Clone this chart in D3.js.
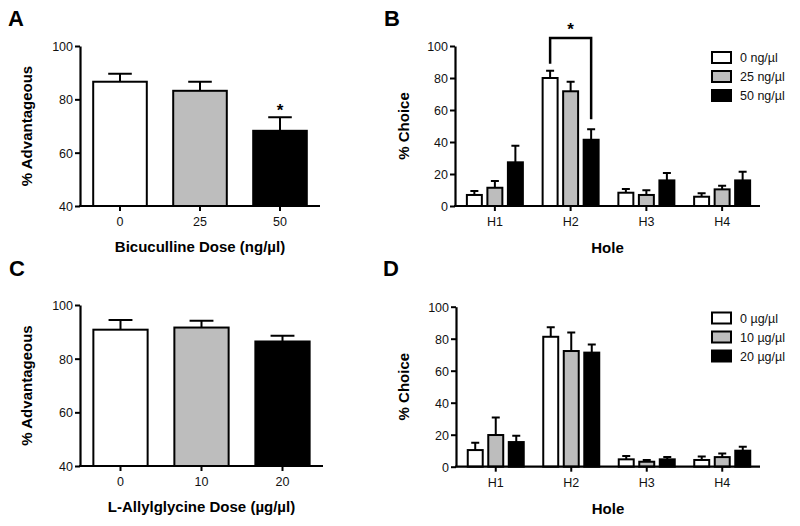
<!DOCTYPE html>
<html><head><meta charset="utf-8">
<script src="https://cdn.jsdelivr.net/npm/d3@7"></script>
<style>body{margin:0;background:#fff}svg{display:block}text{font-family:"Liberation Sans",Arial,Helvetica,sans-serif}</style>
</head><body><svg id="c" width="800" height="526"></svg>
<script>
// ---- data ----
const dosesA = ["0", "25", "50"];
const meanA = [86.6, 83.2, 68.2];
const semA = [3.0, 3.4, 5.1];

const dosesC = ["0", "10", "20"];
const meanC = [90.8, 91.6, 86.4];
const semC = [3.6, 2.5, 2.1];

const holes = ["H1", "H2", "H3", "H4"];
const seriesB = ["0 ng/µl", "25 ng/µl", "50 ng/µl"];
const meanB0 = [6.9, 80.0, 8.3, 5.8];
const semB0 = [2.5, 4.6, 2.3, 2.1];
const meanB25 = [11.4, 71.7, 6.9, 10.4];
const semB25 = [4.2, 6.0, 2.9, 2.3];
const meanB50 = [27.3, 41.4, 16.0, 16.0];
const semB50 = [10.4, 6.5, 4.6, 5.4];

const seriesD = ["0 µg/µl", "10 µg/µl", "20 µg/µl"];
const meanD0 = [10.4, 81.2, 4.6, 4.2];
const semD0 = [4.6, 5.9, 2.1, 2.1];
const meanD10 = [19.8, 72.3, 3.1, 6.0];
const semD10 = [11.0, 11.5, 1.1, 2.3];
const meanD20 = [15.4, 71.3, 4.6, 10.0];
const semD20 = [4.0, 5.0, 1.4, 2.5];

const ticksAdv = [40, 60, 80, 100];
const ticksChoice = [0, 20, 40, 60, 80, 100];
const fills = ["#ffffff", "#bdbdbd", "#000000"];

const svg = d3.select("#c");
const FONT = 12.5;
const TFONT = 15;

function styleAxis(g) {
  g.select(".domain").attr("stroke", "#000").attr("stroke-width", 2.2);
  g.selectAll(".tick line").attr("stroke", "#000").attr("stroke-width", 2);
  g.selectAll(".tick text").attr("font-size", FONT).attr("fill", "#111");
}

function panelLabel(t, x, y) {
  svg.append("text").attr("x", x).attr("y", y).attr("font-size", 22)
    .attr("font-weight", "bold").text(t);
}

function drawYAxis(y, x0, ticks, title, titleX) {
  const g = svg.append("g").attr("transform", `translate(${x0},0)`)
    .call(d3.axisLeft(y).tickValues(ticks).tickSize(5).tickPadding(2).tickSizeOuter(0));
  styleAxis(g);
  g.selectAll(".tick text").attr("dy", "0.36em");
  const ym = (y.range()[0] + y.range()[1]) / 2;
  svg.append("text").attr("transform", `translate(${titleX},${ym}) rotate(-90)`)
    .attr("text-anchor", "middle").attr("font-size", TFONT).attr("font-weight", "bold").text(title);
}

function drawXAxis(x, y0, xEnd, x0, title, titleY) {
  const g = svg.append("g").attr("transform", `translate(0,${y0})`)
    .call(d3.axisBottom(x).tickSize(5).tickSizeOuter(0));
  g.select(".domain").remove();
  styleAxis(g);
  g.selectAll(".tick text").attr("y", 20).attr("dy", 0);
  svg.append("line").attr("x1", x0 - 1).attr("x2", xEnd).attr("y1", y0).attr("y2", y0)
    .attr("stroke", "#000").attr("stroke-width", 2.2);
  svg.append("text").attr("x", (x0 + xEnd) / 2).attr("y", titleY)
    .attr("text-anchor", "middle").attr("font-size", TFONT).attr("font-weight", "bold").text(title);
}

function simplePanel(cats, means, sems, xr, yr, dom, xTitle, xTitleY) {
  const x = d3.scaleBand().domain(cats).range(xr).paddingInner(0.33).paddingOuter(0.165);
  const y = d3.scaleLinear().domain(dom).range(yr);
  const data = cats.map((c, i) => ({c, m: means[i], s: sems[i], f: fills[i]}));
  const g = svg.append("g");
  g.selectAll(".eb").data(data).join("path")
    .attr("d", d => {
      const cx = x(d.c) + x.bandwidth() / 2, hw = x.bandwidth() * 0.22;
      return `M${cx},${y(d.m)}V${y(d.m + d.s)}M${cx - hw},${y(d.m + d.s)}H${cx + hw}`;
    }).attr("stroke", "#000").attr("stroke-width", 2).attr("fill", "none");
  g.selectAll("rect").data(data).join("rect")
    .attr("x", d => x(d.c)).attr("width", x.bandwidth())
    .attr("y", d => y(d.m)).attr("height", d => y(dom[0]) - y(d.m))
    .attr("fill", d => d.f).attr("stroke", "#000").attr("stroke-width", 2);
  drawYAxis(y, xr[0], ticksAdv, "% Advantageous", 32);
  drawXAxis(x, yr[0], xr[1], xr[0], xTitle, xTitleY);
  return {x, y};
}

function groupedPanel(series, means, sems, xr, yr, legY) {
  const x = d3.scaleBand().domain(holes).range(xr).padding(0);
  const inner = d3.scaleBand().domain(series).range([-28, 28]).paddingInner(0.27).paddingOuter(0);
  const y = d3.scaleLinear().domain([0, 100]).range(yr);
  const data = [];
  series.forEach((s, si) => holes.forEach((h, hi) => {
    data.push({h, s, m: means[si][hi], e: sems[si][hi], f: fills[si]});
  }));
  const bx = d => x(d.h) + x.bandwidth() / 2 + inner(d.s);
  const g = svg.append("g");
  g.selectAll(".eb").data(data).join("path")
    .attr("d", d => {
      const cx = bx(d) + inner.bandwidth() / 2, hw = 4;
      return `M${cx},${y(d.m)}V${y(d.m + d.e)}M${cx - hw},${y(d.m + d.e)}H${cx + hw}`;
    }).attr("stroke", "#000").attr("stroke-width", 2).attr("fill", "none");
  g.selectAll("rect").data(data).join("rect")
    .attr("x", bx).attr("width", inner.bandwidth())
    .attr("y", d => y(d.m)).attr("height", d => y(0) - y(d.m))
    .attr("fill", d => d.f).attr("stroke", "#000").attr("stroke-width", 2);
  drawYAxis(y, xr[0] - 2, ticksChoice, "% Choice", 409);
  drawXAxis(x, yr[0], xr[1], xr[0] - 2, "Hole", yr[0] + 47);
  const lg = svg.append("g");
  series.forEach((s, i) => {
    lg.append("rect").attr("x", 712).attr("y", legY + i * 19).attr("width", 19).attr("height", 11)
      .attr("fill", fills[i]).attr("stroke", "#000").attr("stroke-width", 2);
    lg.append("text").attr("x", 740).attr("y", legY + i * 19 + 10).attr("font-size", FONT)
      .attr("fill", "#111").text(s);
  });
  return {x, y, inner, bx};
}

// Panel A
panelLabel("A", 8, 26);
const pA = simplePanel(dosesA, meanA, semA, [80, 320], [206, 46], [40, 100],
  "Bicuculline Dose (ng/µl)", 252);
svg.append("text").attr("x", pA.x("50") + pA.x.bandwidth() / 2)
  .attr("y", pA.y(meanA[2] + semA[2]) - 1).attr("text-anchor", "middle")
  .attr("font-size", 17).attr("font-weight", "bold").text("*");

// Panel B
panelLabel("B", 384, 26);
const pB = groupedPanel(seriesB, [meanB0, meanB25, meanB50], [semB0, semB25, semB50],
  [457, 760], [206, 46], 52);
{
  const xL = pB.bx({h: "H2", s: seriesB[0]}) + pB.inner.bandwidth() / 2;
  const xR = pB.bx({h: "H2", s: seriesB[2]}) + pB.inner.bandwidth() / 2;
  const top = pB.y(105);
  svg.append("path")
    .attr("d", `M${xL},${pB.y(meanB0[1] + semB0[1]) - 7}V${top}H${xR}V${pB.y(meanB50[1] + semB50[1]) - 10}`)
    .attr("fill", "none").attr("stroke", "#000").attr("stroke-width", 2.5);
  svg.append("text").attr("x", (xL + xR) / 2).attr("y", top - 3).attr("text-anchor", "middle")
    .attr("font-size", 17).attr("font-weight", "bold").text("*");
}

// Panel C
panelLabel("C", 9, 276);
simplePanel(dosesC, meanC, semC, [80, 323], [466, 305], [40, 100],
  "L-Allylglycine Dose (µg/µl)", 512);

// Panel D
panelLabel("D", 383, 276);
groupedPanel(seriesD, [meanD0, meanD10, meanD20], [semD0, semD10, semD20],
  [458, 760], [466.7, 306.7], 312.5);
</script></body></html>
